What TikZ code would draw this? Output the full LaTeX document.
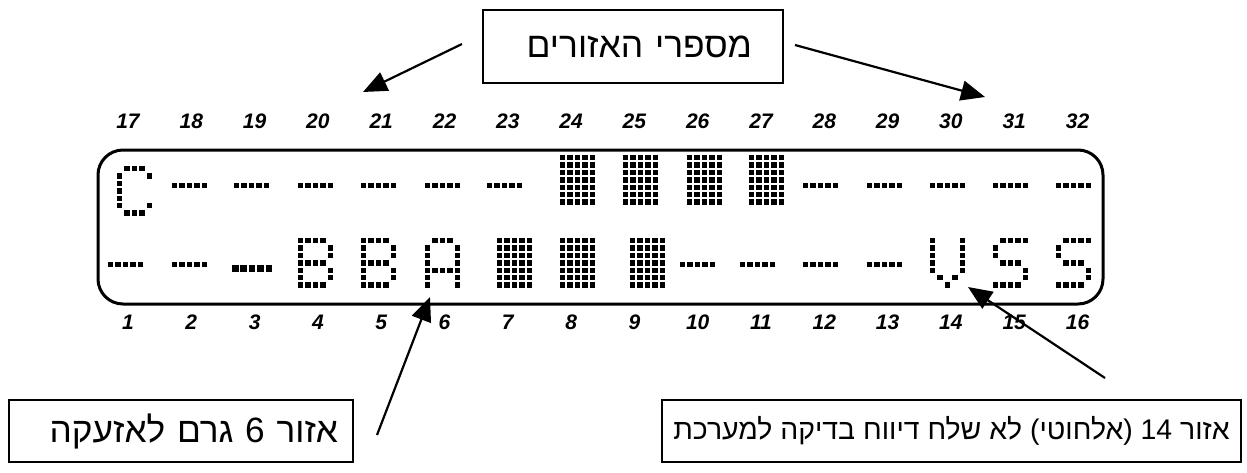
\documentclass[tikz,border=0pt]{standalone}
\usepackage{fontspec}
\setmainfont{Liberation Sans}
\newfontfamily\hebfont[Script=Hebrew]{Liberation Sans}
\TeXXeTstate=1
\usetikzlibrary{arrows.meta}
\tikzset{
  lcdframe/.style={draw, line width=3pt, rounded corners=25pt, minimum width=1005pt, minimum height=154pt, inner sep=0pt},
  lblbox/.style={draw, line width=2.2pt, inner sep=0pt},
  hebtop/.style={font=\hebfont\fontsize{35.4}{38}\selectfont},
  hebleft/.style={font=\hebfont\fontsize{35.2}{37}\selectfont},
  hebright/.style={font=\hebfont\fontsize{28.4}{31}\selectfont},
  zonenum/.style={font=\bfseries\itshape\fontsize{21}{23}\selectfont, inner sep=0pt},
  arr/.style={line width=2.2pt, -{Triangle[length=24pt,width=20pt]}}
}
\newcommand\lcdp{7.4}
\newcommand\lcdd{5.4}
\newcommand\glC{1/0,2/0,3/0,0/1,4/1,0/2,0/3,0/4,0/5,4/5,1/6,2/6,3/6}
\newcommand\glB{0/0,1/0,2/0,3/0,0/1,4/1,0/2,4/2,0/3,1/3,2/3,3/3,0/4,4/4,0/5,4/5,0/6,1/6,2/6,3/6}
\newcommand\glA{1/0,2/0,3/0,0/1,4/1,0/2,4/2,0/3,4/3,0/4,1/4,2/4,3/4,4/4,0/5,4/5,0/6,4/6}
\newcommand\glV{0/0,4/0,0/1,4/1,0/2,4/2,0/3,4/3,0/4,4/4,1/5,3/5,2/6}
\newcommand\glS{1/0,2/0,3/0,4/0,0/1,0/2,1/3,2/3,3/3,4/4,4/5,0/6,1/6,2/6,3/6}
\newcommand\lcdglyph[3]{\foreach \gc/\gr in #3 {\fill (#1+\gc*\lcdp,#2+\gr*\lcdp) rectangle ++(\lcdd,\lcdd);}}
\newcommand\lcdblock[2]{\foreach \gc in {0,...,4}{\foreach \gr in {0,...,6}{\fill (#1+\gc*\lcdp,#2+\gr*\lcdp) rectangle ++(\lcdd,\lcdd);}}}
\newcommand\lcddash[2]{\foreach \gc in {0,...,4}{\fill (#1+\gc*\lcdp,#2) rectangle ++(\lcdd,\lcdd);}}
\begin{document}
\begin{tikzpicture}[x=1pt,y=-1pt]
\useasboundingbox (0,0) rectangle (1247,472);
% LCD frame
\node[lcdframe] (lcd) at (600.5,227) {};
% zone numbers
\foreach \i in {0,...,15}{
  \pgfmathtruncatemacro\tn{17+\i}
  \pgfmathtruncatemacro\bn{1+\i}
  \node[zonenum] (top\tn) at (128+63.3*\i,121) {\tn};
  \node[zonenum] (bot\bn) at (128+63.3*\i,322) {\bn};
}
% top row characters
\lcdglyph{117}{166}{\glC}
\foreach \xx in {172,234,298,361,425,487,803,867,930,993,1056}{\lcddash{\xx}{183}}
\foreach \xx in {560,623,687,749}{\lcdblock{\xx}{155}}
% bottom row characters
\foreach \xx in {108,172,680,740,803,867}{\lcddash{\xx}{261.5}}
\foreach \gc in {0,...,4}{\fill (232+\gc*8.4,265) rectangle ++(6.5,6.5);}
\lcdglyph{298}{238}{\glB}
\lcdglyph{361}{238}{\glB}
\lcdglyph{425}{238}{\glA}
\foreach \xx in {497,560,630}{\lcdblock{\xx}{238}}
\lcdglyph{930}{238}{\glV}
\lcdglyph{993}{238}{\glS}
\lcdglyph{1056}{238}{\glS}
% label boxes
\node[lblbox, hebtop, minimum width=300pt, minimum height=73pt, inner xsep=31pt, text width=238pt, align=right] (zonelbl) at (633,46.5) {\beginR מספרי האזורים\endR};
\node[lblbox, hebleft, minimum width=344pt, minimum height=62pt, inner xsep=15pt, text width=314pt, align=right] (alarmlbl) at (181,431) {\beginR אזור 6 גרם לאזעקה\endR};
\node[lblbox, hebright, minimum width=579pt, minimum height=62pt] (testlbl) at (951.5,431) {\beginR אזור 14 (אלחוטי) לא שלח דיווח בדיקה למערכת\endR};
% arrows
\coordinate (a1s) at (462,44);
\coordinate (a1t) at (363,92);
\coordinate (a2s) at (795,45);
\coordinate (a2t) at (985,97);
\coordinate (a3s) at (377,435);
\coordinate (a3t) at (430,297);
\coordinate (a4s) at (1105,378);
\coordinate (a4t) at (968,287);
\draw[arr] (a1s) -- (a1t);
\draw[arr] (a2s) -- (a2t);
\draw[arr] (a3s) -- (a3t);
\draw[arr] (a4s) -- (a4t);
\end{tikzpicture}
\end{document}
